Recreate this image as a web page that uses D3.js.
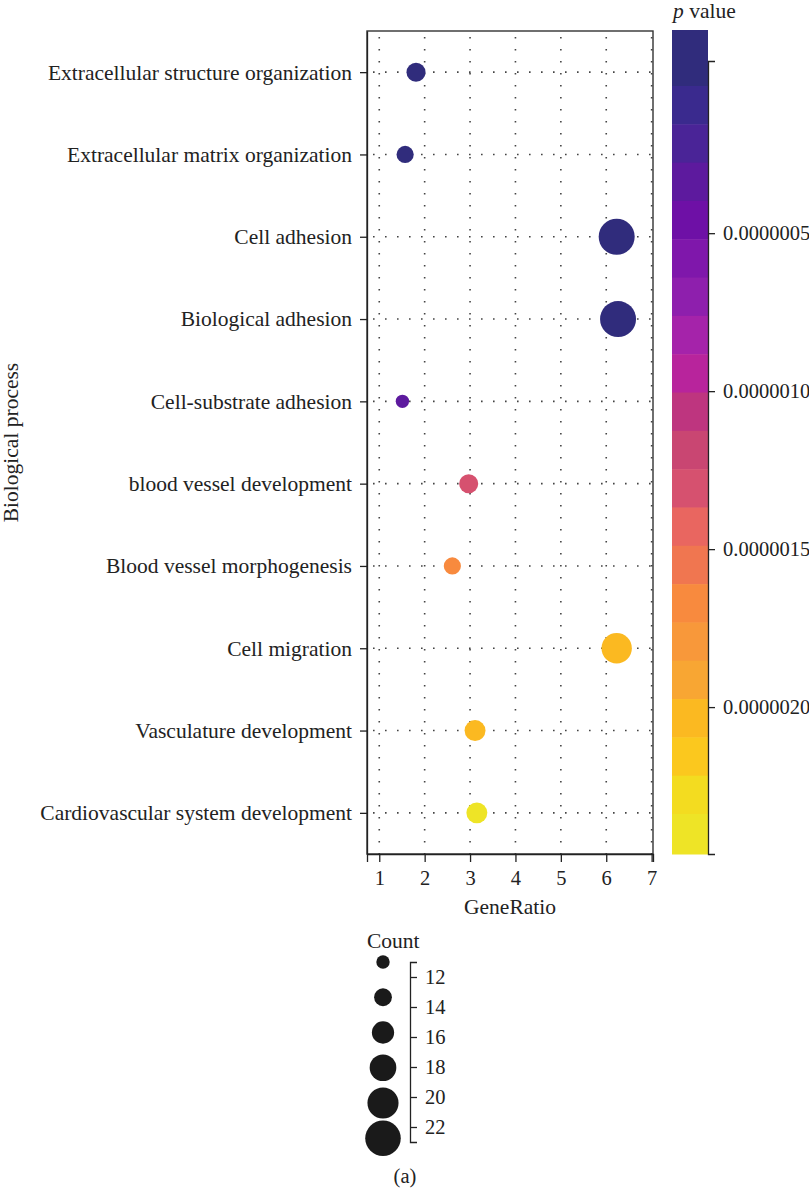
<!DOCTYPE html>
<html>
<head>
<meta charset="utf-8">
<script src="https://cdn.jsdelivr.net/npm/d3@7/dist/d3.min.js"></script>
<style>
  html, body { margin: 0; padding: 0; background: #fff; }
  svg { display: block; }
  text { font-family: "Liberation Serif", "DejaVu Serif", serif; fill: #222; }
</style>
</head>
<body>
<svg id="chart" width="809" height="1191"></svg>
<script>
// ---------------- data ----------------
const categories = [
  "Extracellular structure organization",
  "Extracellular matrix organization",
  "Cell adhesion",
  "Biological adhesion",
  "Cell-substrate adhesion",
  "blood vessel development",
  "Blood vessel morphogenesis",
  "Cell migration",
  "Vasculature development",
  "Cardiovascular system development"
];
const geneRatio = [1.81, 1.57, 6.23, 6.26, 1.51, 2.97, 2.61, 6.23, 3.11, 3.15];
const counts    = [14, 13, 23, 23, 11, 14, 13, 20, 15, 15];
const pValues   = [2.0e-8, 3.0e-8, 1.0e-8, 1.5e-8, 3.5e-7, 1.31e-6, 1.68e-6, 2.04e-6, 2.01e-6, 2.39e-6];

const xTicks = [1, 2, 3, 4, 5, 6, 7];
const xDomain = [0.73, 7.03];
const cbarTicks = [5e-7, 1e-6, 1.5e-6, 2e-6];
const cbarLimits = [-4.5e-8, 2.465e-6];
const sizeDomain = [11, 23];
const sizeTicks = [12, 14, 16, 18, 20, 22];
const sizeLegendCounts = [11, 13.35, 15.7, 18.05, 20.4, 22.75];

// colour bar palette (top = small p, bottom = large p)
const palette = [
  "#302c7c", "#3a2a8e", "#4a2497", "#5d1a9e", "#6e10a6", "#7f17ab", "#8e1fad",
  "#a523aa", "#b8249c", "#be357f", "#c94672", "#d6516f", "#e96660", "#f07650",
  "#f88a3e", "#f8983a", "#f8a633", "#fbb921", "#fbc81e", "#f3dc20", "#eee426"
];

// ---------------- layout ----------------
const svg = d3.select("#chart");
svg.append("rect").attr("width", 809).attr("height", 1191).attr("fill", "#fff");

const P = { left: 367, right: 653, top: 31, bottom: 854 };
const fontTick = 20.5, fontLabel = 21.5;
const ink = "#222";

const x = d3.scaleLinear().domain(xDomain).range([P.left, P.right]);
const y = d3.scalePoint().domain(categories).range([P.top, P.bottom]).padding(0.5);
const r = d3.scaleLinear().domain(sizeDomain).range([6.7, 18]);

// colour bar scales
const cbar = { x: 672, w: 36, top: 30, bottom: 854 };
const pScale = d3.scaleLinear().domain(cbarLimits).range([61, 854]);
const edgeScale = d3.scaleLinear().domain([1, palette.length - 1]).range([86, 814]);
const edgeIdx = d3.range(1, palette.length);
const color = d3.scaleThreshold()
  .domain(edgeIdx.map(i => pScale.invert(edgeScale(i))))
  .range(palette);

// ---------------- grid ----------------
const grid = svg.append("g").attr("stroke", "#444").attr("stroke-width", 1.6)
  .attr("stroke-dasharray", "1.6,10.4");
grid.selectAll("line.v").data(xTicks).join("line")
  .attr("x1", d => x(d)).attr("x2", d => x(d))
  .attr("y1", P.top + 6).attr("y2", P.bottom);
grid.selectAll("line.h").data(categories).join("line")
  .attr("x1", P.left + 6).attr("x2", P.right)
  .attr("y1", d => y(d)).attr("y2", d => y(d));

// ---------------- points ----------------
const pts = categories.map((c, i) => ({ c, g: geneRatio[i], n: counts[i], p: pValues[i] }));
svg.append("g").selectAll("circle").data(pts).join("circle")
  .attr("cx", d => x(d.g)).attr("cy", d => y(d.c))
  .attr("r", d => r(d.n))
  .attr("fill", d => color(d.p));

// panel border
svg.append("rect").attr("x", P.left).attr("y", P.top)
  .attr("width", P.right - P.left).attr("height", P.bottom - P.top)
  .attr("fill", "none").attr("stroke", "#333").attr("stroke-width", 1.4);

// ---------------- axes ----------------
function styleAxis(g, fs) {
  g.selectAll("path, line").attr("stroke", ink).attr("stroke-width", 1.3);
  g.selectAll("text").attr("font-size", fs).attr("fill", ink)
    .attr("font-family", "'Liberation Serif', serif");
}

const xAxis = svg.append("g").attr("transform", `translate(0,${P.bottom})`)
  .call(d3.axisBottom(x).tickValues(xTicks).tickSize(8).tickSizeOuter(8).tickPadding(8).tickFormat(d3.format("d")));
styleAxis(xAxis, fontTick);

const yAxis = svg.append("g").attr("transform", `translate(${P.left},0)`)
  .call(d3.axisLeft(y).tickSize(7).tickSizeOuter(0).tickPadding(8));
styleAxis(yAxis, fontLabel);

svg.append("text").attr("x", (P.left + P.right) / 2).attr("y", 914)
  .attr("text-anchor", "middle").attr("font-size", fontLabel).text("GeneRatio");

svg.append("text").attr("transform", `translate(18,${(P.top + P.bottom) / 2}) rotate(-90)`)
  .attr("text-anchor", "middle").attr("font-size", fontLabel).text("Biological process");

// ---------------- colour bar ----------------
const bands = palette.map((col, i) => ({
  col,
  y0: i === 0 ? cbar.top : edgeScale(i),
  y1: i === palette.length - 1 ? cbar.bottom : edgeScale(i + 1)
}));
svg.append("g").selectAll("rect").data(bands).join("rect")
  .attr("x", cbar.x).attr("width", cbar.w)
  .attr("y", d => d.y0).attr("height", d => d.y1 - d.y0 + 0.5)
  .attr("fill", d => d.col);

const cAxis = svg.append("g").attr("transform", `translate(${cbar.x + cbar.w},0)`)
  .call(d3.axisRight(pScale).tickValues(cbarTicks).tickSize(7).tickSizeOuter(7).tickPadding(8)
    .tickFormat(d3.format(".7f")));
styleAxis(cAxis, fontTick);

const ttl = svg.append("text").attr("x", 673).attr("y", 18).attr("font-size", fontLabel);
ttl.append("tspan").attr("font-style", "italic").text("p");
ttl.append("tspan").text(" value");

// ---------------- size legend ----------------
const ls = d3.scaleLinear().domain(sizeDomain).range([962, 1142]);
svg.append("text").attr("x", 367).attr("y", 948).attr("font-size", fontLabel).text("Count");
svg.append("g").selectAll("circle").data(sizeLegendCounts).join("circle")
  .attr("cx", 383).attr("cy", d => ls(d)).attr("r", d => r(d)).attr("fill", "#1a1a1a");
const sAxis = svg.append("g").attr("transform", "translate(410,0)")
  .call(d3.axisRight(ls).tickValues(sizeTicks).tickSize(7).tickSizeOuter(7).tickPadding(8));
styleAxis(sAxis, fontTick);

svg.append("text").attr("x", 405).attr("y", 1183).attr("text-anchor", "middle")
  .attr("font-size", fontTick).text("(a)");
</script>
</body>
</html>
